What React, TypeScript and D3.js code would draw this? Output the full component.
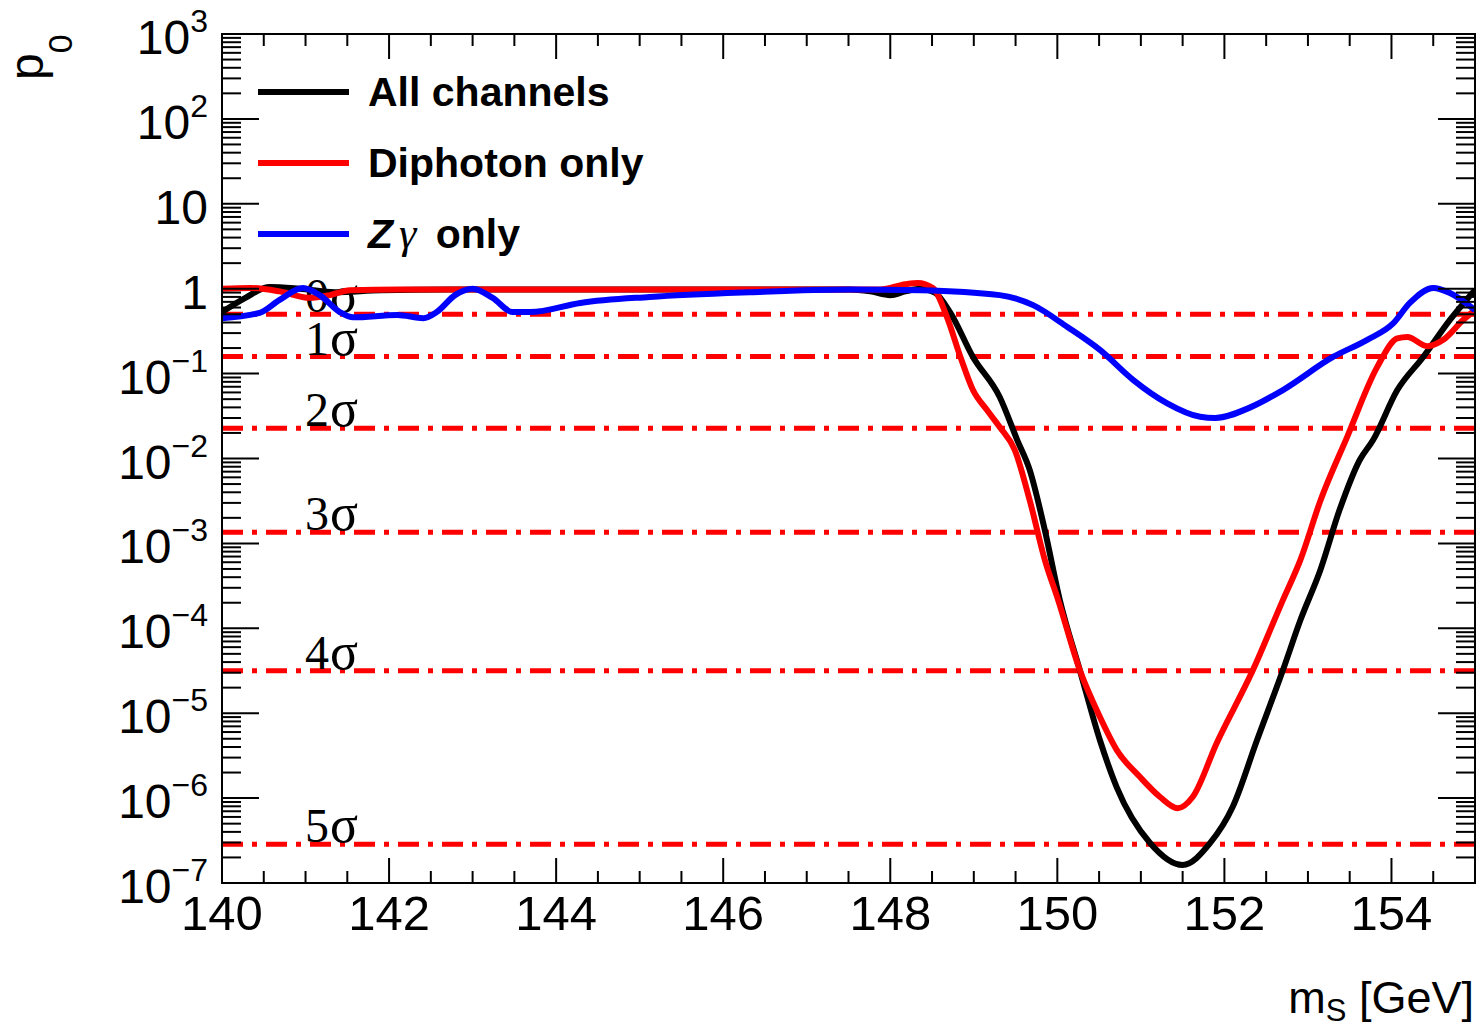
import * as d3 from "d3";
import React from "react";

// mass points [GeV] and local p0 for each channel
const allMass = [140.0, 140.28, 140.57, 140.93, 141.35, 141.9, 142.73, 143.5, 144.5, 145.5, 146.5, 147.5, 147.76, 148.0, 148.18, 148.36, 148.54, 148.72, 148.99, 149.31, 149.52, 149.67, 149.85, 150.03, 150.27, 150.51, 150.71, 151.11, 151.5, 151.83, 152.1, 152.39, 152.7, 152.91, 153.15, 153.38, 153.62, 153.78, 154.07, 154.38, 154.7, 155.0];
const allP0 = [0.53, 0.78, 1.05, 1.0, 0.91, 0.96, 0.98, 0.98, 0.98, 0.98, 0.98, 0.98, 0.93, 0.84, 0.93, 1.0, 0.89, 0.52, 0.157, 0.053, 0.0165, 7.3e-3, 1.44e-3, 2.15e-4, 3.2e-5, 4.8e-6, 1.35e-6, 2.96e-7, 1.63e-7, 2.96e-7, 7.9e-7, 4.8e-6, 3.2e-5, 1.25e-4, 4.9e-4, 2.5e-3, 9.6e-3, 0.0165, 0.064, 0.157, 0.43, 0.97];

const diphoMass = [140.0, 140.34, 140.69, 141.05, 141.29, 141.53, 142.13, 143.0, 144.0, 145.0, 146.0, 147.0, 147.88, 148.18, 148.33, 148.51, 148.68, 148.84, 148.99, 149.16, 149.31, 149.49, 149.67, 149.85, 150.01, 150.27, 150.51, 150.71, 150.99, 151.23, 151.44, 151.62, 151.91, 152.34, 152.7, 152.91, 153.15, 153.47, 153.83, 154.07, 154.19, 154.43, 154.62, 154.86, 155.0];
const diphoP0 = [1.0, 1.02, 0.93, 0.78, 0.84, 0.96, 0.98, 0.98, 0.98, 0.98, 0.98, 0.98, 0.98, 1.13, 1.17, 1.02, 0.46, 0.157, 0.064, 0.037, 0.0235, 0.0126, 3.2e-3, 6.4e-4, 2.15e-4, 3.2e-5, 9e-6, 3.7e-6, 1.77e-6, 1.03e-6, 7.6e-7, 1.03e-6, 4.5e-6, 3.2e-5, 2.15e-4, 6.4e-4, 3.2e-3, 0.018, 0.12, 0.26, 0.27, 0.21, 0.25, 0.43, 0.56];

const zgMass = [140.0, 140.45, 140.69, 140.97, 141.17, 141.41, 141.57, 142.1, 142.41, 142.57, 142.79, 143.0, 143.24, 143.48, 143.69, 144.29, 145.12, 146.32, 147.52, 148.36, 149.31, 149.71, 150.12, 150.51, 150.91, 151.31, 151.71, 151.89, 152.31, 152.7, 153.3, 153.71, 154.02, 154.22, 154.5, 154.7, 155.0];
const zgP0 = [0.45, 0.52, 0.74, 1.02, 0.84, 0.53, 0.46, 0.49, 0.45, 0.53, 0.84, 1.0, 0.78, 0.53, 0.53, 0.68, 0.8, 0.91, 0.98, 0.96, 0.84, 0.64, 0.354, 0.19, 0.084, 0.045, 0.031, 0.03, 0.04, 0.064, 0.157, 0.25, 0.39, 0.68, 1.02, 0.89, 0.56];

// one-sided significance levels
const sigmaNames = ["0σ", "1σ", "2σ", "3σ", "4σ", "5σ"];
const sigmaP0 = [0.5, 0.1587, 0.02275, 1.35e-3, 3.17e-5, 2.87e-7];

const xMajor = [140, 142, 144, 146, 148, 150, 152, 154];
const yExp = [-7, -6, -5, -4, -3, -2, -1, 0, 1, 2, 3];

const legendNames = ["All channels", "Diphoton only", "Zγ only"];
const colours = ["#000000", "#ff0000", "#0000ff"];

const W = 1482;
const H = 1029;
const left = 222;
const right = 1475;
const top = 34;
const bottom = 883;
const sans = "'Liberation Sans', Arial, Helvetica, sans-serif";
const serif = "'Liberation Serif', 'Times New Roman', serif";

export default function App() {
  const x = d3.scaleLinear().domain([140, 155]).range([left, right]);
  const y = d3.scaleLog().domain([1e-7, 1e3]).range([bottom, top]);

  const line = d3
    .line<[number, number]>()
    .x((d) => x(d[0]))
    .y((d) => y(d[1]))
    .curve(d3.curveMonotoneX);

  const series = [
    d3.zip(allMass, allP0),
    d3.zip(diphoMass, diphoP0),
    d3.zip(zgMass, zgP0),
  ] as [number, number][][];

  const xMinor = d3.range(140, 155.001, 0.5).filter((v) => !xMajor.includes(v));
  const yMinor: number[] = [];
  yExp.slice(0, -1).forEach((e) => {
    for (let k = 2; k <= 9; k++) yMinor.push(k * Math.pow(10, e));
  });

  const legendY = [92, 163, 234];

  return (
    <svg width={W} height={H} style={{ position: "absolute", left: 0, top: 0, background: "#fff" }}>
      <defs>
        <clipPath id="plot">
          <rect x={left} y={top} width={right - left} height={bottom - top} />
        </clipPath>
      </defs>

      {/* significance lines */}
      {sigmaP0.map((p, i) => (
        <g key={"s" + i}>
          <line
            x1={left}
            x2={right}
            y1={y(p)}
            y2={y(p)}
            stroke="#ff0000"
            strokeWidth={5}
            strokeDasharray="21 9 5 9"
          />
          <text x={305} y={y(p) - 2} fontFamily={serif} fontSize={48} fill="#000">
            {sigmaNames[i][0]}
            <tspan fontSize={52} dx={1}>σ</tspan>
          </text>
        </g>
      ))}

      {/* curves */}
      <g clipPath="url(#plot)">
        {series.map((s, i) => (
          <path key={"c" + i} d={line(s) ?? ""} fill="none" stroke={colours[i]} strokeWidth={6} strokeLinejoin="round" />
        ))}
      </g>

      {/* frame */}
      <rect x={left} y={top} width={right - left} height={bottom - top} fill="none" stroke="#000" strokeWidth={2} />

      {/* x ticks, bottom and top */}
      {xMajor.map((v) => (
        <g key={"xm" + v}>
          <line x1={x(v)} x2={x(v)} y1={bottom} y2={bottom - 25} stroke="#000" strokeWidth={2} />
          <line x1={x(v)} x2={x(v)} y1={top} y2={top + 25} stroke="#000" strokeWidth={2} />
          <text x={x(v)} y={930} textAnchor="middle" fontFamily={sans} fontSize={49}>
            {v}
          </text>
        </g>
      ))}
      {xMinor.map((v) => (
        <g key={"xn" + v}>
          <line x1={x(v)} x2={x(v)} y1={bottom} y2={bottom - 12} stroke="#000" strokeWidth={2} />
          <line x1={x(v)} x2={x(v)} y1={top} y2={top + 12} stroke="#000" strokeWidth={2} />
        </g>
      ))}

      {/* y ticks, left and right */}
      {yExp.map((e) => {
        const yy = y(Math.pow(10, e));
        return (
          <g key={"ym" + e}>
            <line x1={left} x2={left + 37} y1={yy} y2={yy} stroke="#000" strokeWidth={2} />
            <line x1={right} x2={right - 37} y1={yy} y2={yy} stroke="#000" strokeWidth={2} />
            <text x={208} y={yy + 20} textAnchor="end" fontFamily={sans} fontSize={48}>
              {e === 0 ? "1" : e === 1 ? "10" : (
                <>
                  10
                  <tspan fontSize={32} dy={-22}>
                    {e < 0 ? "\u2212" + -e : String(e)}
                  </tspan>
                </>
              )}
            </text>
          </g>
        );
      })}
      {yMinor.map((v, i) => (
        <g key={"yn" + i}>
          <line x1={left} x2={left + 19} y1={y(v)} y2={y(v)} stroke="#000" strokeWidth={2} />
          <line x1={right} x2={right - 19} y1={y(v)} y2={y(v)} stroke="#000" strokeWidth={2} />
        </g>
      ))}

      {/* legend */}
      {legendNames.map((name, i) => (
        <g key={"l" + i}>
          <line x1={258} x2={349} y1={legendY[i]} y2={legendY[i]} stroke={colours[i]} strokeWidth={6} />
          <text x={368} y={legendY[i] + 14} fontFamily={sans} fontSize={41} fontWeight="bold">
            {i === 2 ? (
              <>
                <tspan fontStyle="italic">Z</tspan>
                <tspan fontStyle="italic" fontWeight="normal" fontFamily={serif} fontSize={44} dx={6}>γ</tspan>
                <tspan dx={8}> only</tspan>
              </>
            ) : (
              name
            )}
          </text>
        </g>
      ))}

      {/* axis titles */}
      <text x={1474} y={1013} textAnchor="end" fontFamily={sans} fontSize={45}>
        m<tspan fontSize={31} dy={8}>S</tspan>
        <tspan dy={-8}> [GeV]</tspan>
      </text>
      <text transform="translate(43, 80) rotate(-90)" fontFamily={sans} fontSize={48}>
        p<tspan fontSize={34} dy={29}>0</tspan>
      </text>
    </svg>
  );
}
